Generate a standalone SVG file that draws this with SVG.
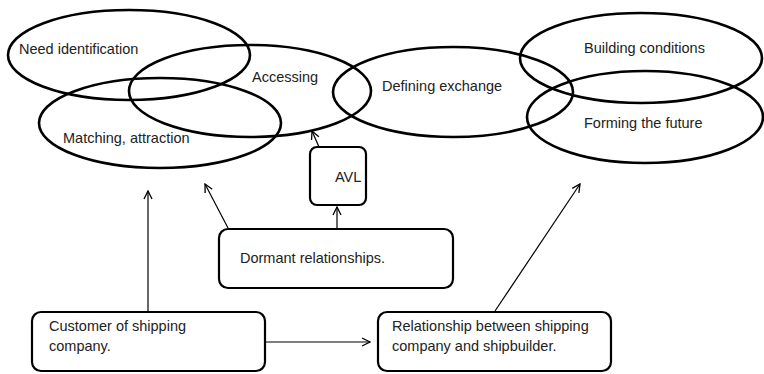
<svg xmlns="http://www.w3.org/2000/svg" width="764" height="374" viewBox="0 0 764 374">
  <defs>
    <marker id="arrow" viewBox="0 0 10 10" refX="9" refY="5" markerWidth="10" markerHeight="10" markerUnits="userSpaceOnUse" orient="auto">
      <path d="M1,1 L9,5 L1,9" fill="none" stroke="#000" stroke-width="1.3"/>
    </marker>
  </defs>
  <style>
    .phase { fill: none; stroke: #000; stroke-width: 2.6; }
    .box { fill: #fff; stroke: #000; stroke-width: 2.2; }
    .lbl { font-family: "Liberation Sans", Arial, sans-serif; font-size: 14.5px; fill: #222; }
    .link { fill: none; stroke: #000; stroke-width: 1.2; marker-end: url(#arrow); }
  </style>
  <rect width="764" height="374" fill="#fff"/>

  <!-- overlapping phase ellipses -->
  <g id="need-identification">
    <ellipse class="phase" cx="129" cy="55" rx="121" ry="45"/>
    <text class="lbl" x="19" y="54">Need identification</text>
  </g>
  <g id="accessing">
    <ellipse class="phase" cx="250" cy="91" rx="121" ry="46"/>
    <text class="lbl" x="252" y="82">Accessing</text>
  </g>
  <g id="matching-attraction">
    <ellipse class="phase" cx="160" cy="123" rx="121" ry="45"/>
    <text class="lbl" x="63" y="143">Matching, attraction</text>
  </g>
  <g id="defining-exchange">
    <ellipse class="phase" cx="453" cy="92" rx="120" ry="45"/>
    <text class="lbl" x="382" y="91">Defining exchange</text>
  </g>
  <g id="building-conditions">
    <ellipse class="phase" cx="641" cy="58" rx="121" ry="45"/>
    <text class="lbl" x="584" y="53">Building conditions</text>
  </g>
  <g id="forming-the-future">
    <ellipse class="phase" cx="645" cy="117" rx="118" ry="46"/>
    <text class="lbl" x="584" y="128">Forming the future</text>
  </g>

  <!-- connectors -->
  <g id="connectors">
    <line class="link" x1="319" y1="147" x2="312" y2="131"/>
    <line class="link" x1="337" y1="229" x2="337" y2="207"/>
    <line class="link" x1="228" y1="228" x2="205" y2="184"/>
    <line class="link" x1="148" y1="312" x2="148" y2="191"/>
    <line class="link" x1="265" y1="342" x2="370" y2="342"/>
    <line class="link" x1="495" y1="311" x2="580" y2="184"/>
  </g>

  <!-- boxes -->
  <g id="avl">
    <rect class="box" x="310" y="147" width="56" height="58" rx="7"/>
    <text class="lbl" x="335" y="182">AVL</text>
  </g>
  <g id="dormant-relationships">
    <rect class="box" x="219" y="229" width="234" height="59" rx="9"/>
    <text class="lbl" x="240" y="263">Dormant relationships.</text>
  </g>
  <g id="customer">
    <rect class="box" x="32" y="312" width="233" height="59" rx="9"/>
    <text class="lbl" x="49" y="331">Customer of shipping</text>
    <text class="lbl" x="49" y="351">company.</text>
  </g>
  <g id="shipping-shipbuilder">
    <rect class="box" x="378" y="312" width="233" height="59" rx="9"/>
    <text class="lbl" x="392" y="331">Relationship between shipping</text>
    <text class="lbl" x="392" y="351">company and shipbuilder.</text>
  </g>
</svg>
